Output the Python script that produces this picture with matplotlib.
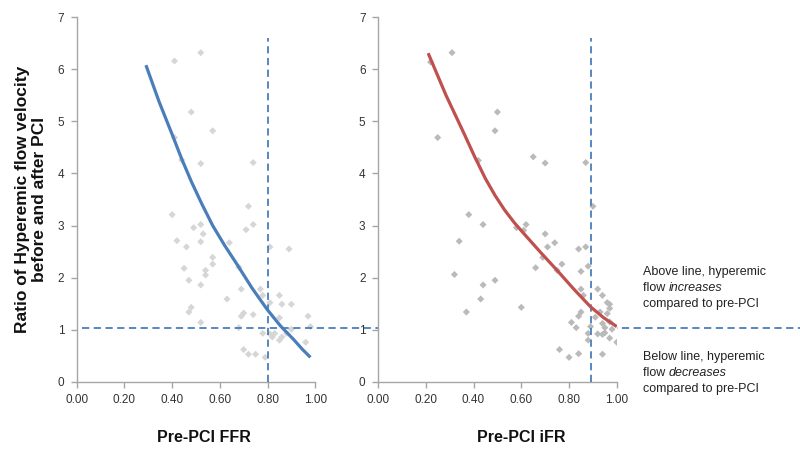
import matplotlib
matplotlib.use("Agg")
import matplotlib.pyplot as plt
import matplotlib.transforms as mtransforms

plt.rcParams['font.family'] = ['Liberation Sans', 'DejaVu Sans']

# FFR panel (left)
ffr_x = [0.41, 0.52, 0.48, 0.57, 0.41, 0.44, 0.52, 0.74, 0.40, 0.42, 0.46, 0.45,
         0.47, 0.49, 0.52, 0.53, 0.52, 0.57, 0.54, 0.54, 0.57, 0.52, 0.48, 0.47,
         0.52, 0.64, 0.63, 0.68, 0.69, 0.71, 0.72, 0.74, 0.81, 0.89, 0.77, 0.78,
         0.85, 0.81, 0.86, 0.90, 0.70, 0.74, 0.69, 0.68, 0.85, 0.97, 0.98, 0.78,
         0.81, 0.83, 0.82, 0.85, 0.86, 0.88, 0.90, 0.96, 0.70, 0.72, 0.75, 0.79]
ffr_y = [6.16, 6.32, 5.18, 4.82, 4.69, 4.26, 4.19, 4.21, 3.21, 2.71, 2.59, 2.18,
         1.95, 2.96, 3.02, 2.84, 2.69, 2.39, 2.14, 2.05, 2.26, 1.86, 1.43, 1.34,
         1.14, 2.67, 1.59, 2.20, 1.78, 2.92, 3.37, 3.02, 2.59, 2.55, 1.78, 1.66,
         1.66, 1.52, 1.49, 1.49, 1.32, 1.29, 1.26, 1.04, 1.23, 1.26, 1.06, 0.93,
         0.92, 0.93, 0.86, 0.80, 0.86, 0.93, 1.01, 0.76, 0.62, 0.53, 0.53, 0.47]
ffr_fit_x = [0.29, 0.345, 0.40, 0.44, 0.48, 0.525, 0.57, 0.62, 0.67, 0.735,
             0.80, 0.855, 0.91, 0.945, 0.98]
ffr_fit_y = [6.08, 5.38, 4.75, 4.28, 3.85, 3.41, 3.00, 2.62, 2.27, 1.80,
             1.38, 1.07, 0.81, 0.63, 0.47]
ffr_cutoff = 0.80

# iFR panel (right)
ifr_x = [0.22, 0.31, 0.50, 0.25, 0.49, 0.42, 0.65, 0.70, 0.87, 0.38, 0.44, 0.34,
         0.32, 0.44, 0.49, 0.43, 0.37, 0.60, 0.58, 0.61, 0.62, 0.66, 0.70, 0.71,
         0.69, 0.74, 0.75, 0.77, 0.84, 0.87, 0.90, 0.85, 0.88, 0.85, 0.92, 0.86,
         0.94, 0.96, 0.97, 0.97, 0.93, 0.85, 0.84, 0.96, 0.81, 0.83, 0.89, 0.91,
         0.94, 0.95, 0.97, 0.98, 0.88, 0.92, 0.94, 0.95, 0.97, 0.88, 1.00, 0.76,
         0.80, 0.84, 0.94]
ifr_y = [6.14, 6.32, 5.18, 4.69, 4.82, 4.25, 4.32, 4.20, 4.21, 3.21, 3.02, 2.70,
         2.06, 1.86, 1.95, 1.59, 1.34, 1.43, 2.96, 2.91, 3.02, 2.19, 2.84, 2.59,
         2.39, 2.67, 2.14, 2.26, 2.55, 2.59, 3.37, 2.12, 2.22, 1.78, 1.78, 1.66,
         1.66, 1.52, 1.49, 1.41, 1.34, 1.34, 1.26, 1.31, 1.14, 1.04, 1.06, 1.24,
         1.12, 1.04, 1.15, 1.01, 0.93, 0.92, 0.91, 0.94, 0.84, 0.80, 0.76, 0.62,
         0.47, 0.54, 0.53]
ifr_fit_x = [0.21, 0.285, 0.36, 0.405, 0.45, 0.49, 0.53, 0.57, 0.61, 0.68,
             0.75, 0.82, 0.89, 0.945, 1.00]
ifr_fit_y = [6.31, 5.50, 4.77, 4.32, 3.90, 3.58, 3.30, 3.06, 2.85, 2.49,
             2.14, 1.78, 1.44, 1.23, 1.06]
ifr_cutoff = 0.89

ratio_line = 1.04
x_ticks = [0.0, 0.2, 0.4, 0.6, 0.8, 1.0]
y_ticks = [0, 1, 2, 3, 4, 5, 6, 7]

blue = '#4a7ebb'
red = '#c0504d'
axis_grey = '#a6a6a6'
text_col = '#333333'

fig = plt.figure(figsize=(8, 4.54), dpi=100)
ax1 = fig.add_axes([0.096, 0.159, 0.298, 0.803])
ax2 = fig.add_axes([0.4725, 0.159, 0.2985, 0.803])

panels = [
    (ax1, ffr_x, ffr_y, ffr_fit_x, ffr_fit_y, ffr_cutoff, '#d6d6d6', blue),
    (ax2, ifr_x, ifr_y, ifr_fit_x, ifr_fit_y, ifr_cutoff, '#bababa', red),
]

for ax, sx, sy, fx, fy, cut, dot_col, line_col in panels:
    ax.scatter(sx, sy, marker='D', s=13, color=dot_col, edgecolors='none', zorder=2)
    ax.plot(fx, fy, color=line_col, linewidth=2.3, solid_capstyle='butt',
            solid_joinstyle='round', zorder=4)
    ax.vlines(cut, 0, 6.6, colors=blue, linestyles=(0, (4, 2.5)), linewidth=1.3, zorder=3)
    ax.set_xlim(0, 1.0)
    ax.set_ylim(0, 7)
    ax.set_xticks(x_ticks)
    ax.set_xticklabels([f"{t:.2f}" for t in x_ticks])
    ax.set_yticks(y_ticks)
    for side in ['top', 'right']:
        ax.spines[side].set_visible(False)
    for side in ['left', 'bottom']:
        ax.spines[side].set_color(axis_grey)
        ax.spines[side].set_linewidth(1.0)
    ax.tick_params(axis='both', direction='out', length=4, width=1.0,
                   color=axis_grey, labelsize=8.5, labelcolor=text_col, pad=5)

# horizontal reference line running across both panels to the page edge
trans = mtransforms.blended_transform_factory(fig.transFigure, ax1.transData)
ax1.plot([0.102, 1.0], [ratio_line, ratio_line], transform=trans, color=blue,
         linestyle=(0, (4, 2.5)), linewidth=1.3, clip_on=False, zorder=3)

ax1.set_ylabel('Ratio of Hyperemic flow velocity\nbefore and after PCI',
               fontsize=12.5, fontweight='bold', color='#111111', labelpad=8,
               linespacing=1.1)

fig.text(0.255, 0.037, 'Pre-PCI FFR', ha='center', va='center',
         fontsize=11.5, fontweight='bold', color='#111111')
fig.text(0.651, 0.037, 'Pre-PCI iFR', ha='center', va='center',
         fontsize=11.5, fontweight='bold', color='#111111')

# side notes, italic word set in its own text piece
note_x = 0.804
note_kw = dict(fontsize=9, color='#222222', va='center', ha='left')
fig.text(note_x, 1 - 271.7 / 454, 'Above line, hyperemic', **note_kw)
t1 = fig.text(note_x, 1 - 288 / 454, 'flow ', **note_kw)
ax1.annotate('increases', xy=(1, 0.5), xycoords=t1, va='center', ha='left',
             fontsize=9, color='#222222', style='italic')
fig.text(note_x, 1 - 304.3 / 454, 'compared to pre-PCI', **note_kw)

fig.text(note_x, 1 - 356.7 / 454, 'Below line, hyperemic', **note_kw)
t2 = fig.text(note_x, 1 - 373 / 454, 'flow ', **note_kw)
ax1.annotate('decreases', xy=(1, 0.5), xycoords=t2, va='center', ha='left',
             fontsize=9, color='#222222', style='italic')
fig.text(note_x, 1 - 389.3 / 454, 'compared to pre-PCI', **note_kw)

fig.savefig('out.png', dpi=100, facecolor='white')
